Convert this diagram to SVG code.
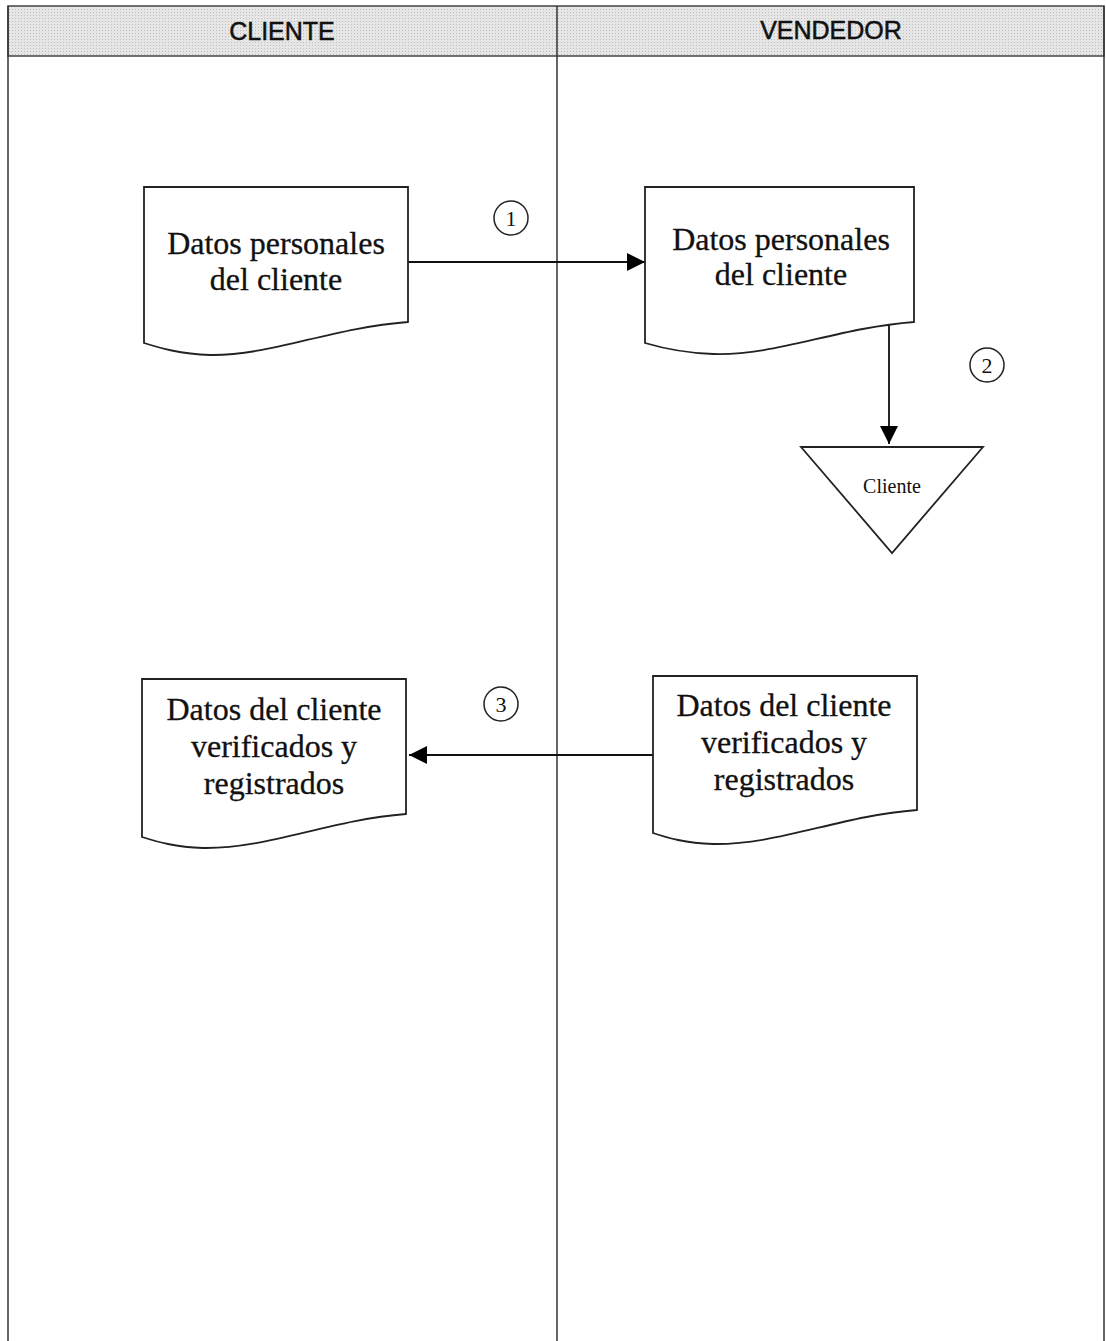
<svg xmlns="http://www.w3.org/2000/svg" width="1106" height="1341" viewBox="0 0 1106 1341">
<defs>
<pattern id="dots" width="3" height="3" patternUnits="userSpaceOnUse">
<rect width="3" height="3" fill="#e6e6e6"/>
<rect width="1" height="1" fill="#bdbdbd"/>
</pattern>
<marker id="arr" viewBox="0 0 10 10" refX="10" refY="5" markerWidth="18" markerHeight="18" markerUnits="userSpaceOnUse" orient="auto">
<path d="M0,0 L10,5 L0,10 Z" fill="#000"/>
</marker>
</defs>
<style>
.lane{fill:none;stroke:#333;stroke-width:1.5}
.hdr{font-family:"Liberation Sans",Arial,sans-serif;font-size:25px;fill:#111;stroke:#111;stroke-width:0.5;text-anchor:middle}
.doc{fill:#fff;stroke:#222;stroke-width:1.8}
.t{font-family:"Liberation Serif","Times New Roman",serif;font-size:32px;fill:#111;stroke:#111;stroke-width:0.3;text-anchor:middle}
.ts{font-family:"Liberation Serif","Times New Roman",serif;font-size:20px;fill:#111;text-anchor:middle}
.num{font-family:"Liberation Serif","Times New Roman",serif;font-size:22px;fill:#111;text-anchor:middle}
.circ{fill:#fff;stroke:#222;stroke-width:1.5}
.conn{fill:none;stroke:#111;stroke-width:1.8}
</style>
<g id="lanes">
<rect x="8" y="6" width="1096" height="50" fill="url(#dots)" stroke="#444" stroke-width="1.5"/>
<line class="lane" x1="8" y1="6" x2="8" y2="1341"/>
<line class="lane" x1="557" y1="6" x2="557" y2="1341"/>
<line class="lane" x1="1104" y1="6" x2="1104" y2="1341"/>
<text class="hdr" x="282" y="40">CLIENTE</text>
<text class="hdr" x="831" y="39">VENDEDOR</text>
</g>
<g id="connectors">
<line class="conn" x1="408" y1="262" x2="645" y2="262" marker-end="url(#arr)"/>
<line class="conn" x1="889" y1="322" x2="889" y2="444" marker-end="url(#arr)"/>
<line class="conn" x1="653" y1="755" x2="409" y2="755" marker-end="url(#arr)"/>
</g>
<g id="doc1">
<path class="doc" d="M144,187 H408 V322 C330,328 270,356 210,355 C180,354 160,348 144,343 Z"/>
<text class="t" x="276" y="254">Datos personales</text>
<text class="t" x="276" y="290">del cliente</text>
</g>
<g id="doc2">
<path class="doc" d="M645,187 H914 V322 C836,328 776,356 713,354 C683,353 662,348 645,343 Z"/>
<text class="t" x="781" y="250">Datos personales</text>
<text class="t" x="781" y="285">del cliente</text>
</g>
<g id="store">
<path class="doc" d="M801,447 H983 L892,553 Z"/>
<text class="ts" x="892" y="493">Cliente</text>
</g>
<g id="doc3">
<path class="doc" d="M142,679 H406 V814 C328,820 268,849 203,848 C175,847 158,842 142,837 Z"/>
<text class="t" x="274" y="720">Datos del cliente</text>
<text class="t" x="274" y="757">verificados y</text>
<text class="t" x="274" y="794">registrados</text>
</g>
<g id="doc4">
<path class="doc" d="M653,676 H917 V810 C839,816 779,845 713,844 C685,843 668,838 653,833 Z"/>
<text class="t" x="784" y="716">Datos del cliente</text>
<text class="t" x="784" y="753">verificados y</text>
<text class="t" x="784" y="790">registrados</text>
</g>
<g id="step1"><circle class="circ" cx="511" cy="218" r="17"/><text class="num" x="511" y="226">1</text></g>
<g id="step2"><circle class="circ" cx="987" cy="365" r="17"/><text class="num" x="987" y="373">2</text></g>
<g id="step3"><circle class="circ" cx="501" cy="704" r="17"/><text class="num" x="501" y="712">3</text></g>
</svg>
